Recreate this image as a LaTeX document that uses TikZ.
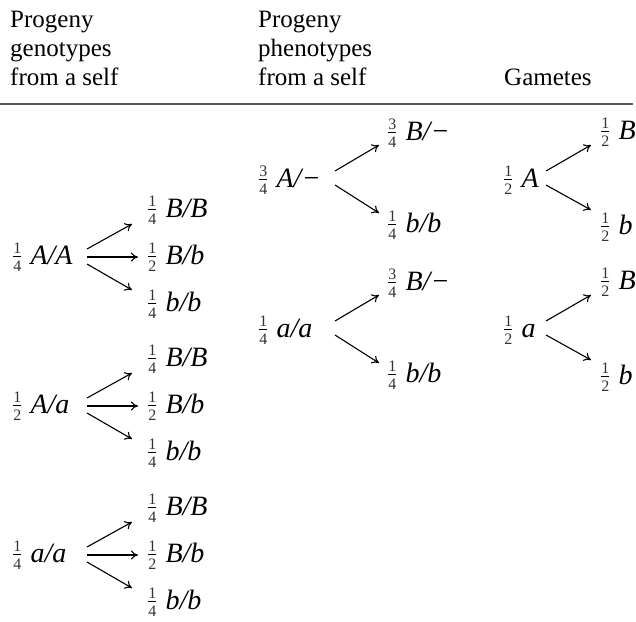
\documentclass[tikz,border=0pt]{standalone}
\usepackage{amsmath}
\usepackage{fontspec}
\setmainfont{Liberation Serif}
\usetikzlibrary{arrows.meta,calc}
\newcommand\fr[2]{\raisebox{2pt}{\ensuremath{\genfrac{}{}{0.5pt}{1}{\hbox{\fontsize{16}{16}\selectfont\color{black!80}#1}}{\hbox{\fontsize{16}{16}\selectfont\color{black!80}#2}}}}\hspace{8pt}}
\tikzset{
  lab/.style={inner sep=0pt, anchor=west, font=\fontsize{28}{30}\selectfont},
  hdr/.style={inner sep=0pt, anchor=base west, align=left, font=\fontsize{25}{29}\selectfont},
  arr/.style={line width=1.1pt, -{To[length=7pt,width=9pt]}},
  rulestyle/.style={line width=2.5pt, black!65}
}
\begin{document}
\begin{tikzpicture}[x=1pt,y=-1pt]
\useasboundingbox (0,0) rectangle (636,621);
% headers (anchor = baseline of last line)
\node[hdr] (h1) at (10,85) {Progeny\\genotypes\\from a self};
\node[hdr] (h2) at (258,85) {Progeny\\phenotypes\\from a self};
\node[hdr] (h3) at (504,85) {Gametes};
\coordinate (r0) at (0,104);
\coordinate (r1) at (633,104);
\draw[rulestyle] (r0) -- (r1);
% column 1
\foreach \n/\yc/\lab in {1/257/{\textit{A/A}},2/406/{\textit{A/a}},3/555/{\textit{a/a}}}{
  \node[lab] (g\n) at (12,\yc) {\ifnum\n=2 \fr12\else\fr14\fi\lab};
  \node[lab] (g\n a) at (147,\yc-47) {\fr14\textit{B/B}};
  \node[lab] (g\n b) at (147,\yc) {\fr12\textit{B/b}};
  \node[lab] (g\n c) at (147,\yc+47) {\fr14\textit{b/b}};
  \draw[arr] ($(g\n.west)+(75,-8)$) -- ($(g\n a.west)+(-15,14)$);
  \draw[arr] ($(g\n.west)+(75,0)$) -- ($(g\n b.west)+(-9,0)$);
  \draw[arr] ($(g\n.west)+(75,7)$) -- ($(g\n c.west)+(-15,-14)$);
}
% column 2
\node[lab] (p1) at (258,180) {\fr34\textit{A/}−};
\node[lab] (p2) at (258,330) {\fr14\textit{a/a}};
\foreach \n in {1,2}{
  \node[lab] (p\n a) at (387,{\n*150+30-47}) {\fr34\textit{B/}−};
  \node[lab] (p\n b) at (387,{\n*150+30+45}) {\fr14\textit{b/b}};
  \draw[arr] ($(p\n.west)+(77,-9)$) -- ($(p\n a.west)+(-8,12)$);
  \draw[arr] ($(p\n.west)+(77,5)$) -- ($(p\n b.west)+(-8,-12)$);
}
% column 3
\node[lab] (m1) at (503,180) {\fr12\textit{A}};
\node[lab] (m2) at (503,330) {\fr12\textit{a}};
\foreach \n in {1,2}{
  \node[lab] (m\n a) at (600,{\n*150+30-48}) {\fr12\textit{B}};
  \node[lab] (m\n b) at (600,{\n*150+30+47}) {\fr12\textit{b}};
  \draw[arr] ($(m\n.west)+(43,-9)$) -- ($(m\n a.west)+(-9,13)$);
  \draw[arr] ($(m\n.west)+(43,5)$) -- ($(m\n b.west)+(-9,-17)$);
}
\end{tikzpicture}
\end{document}
